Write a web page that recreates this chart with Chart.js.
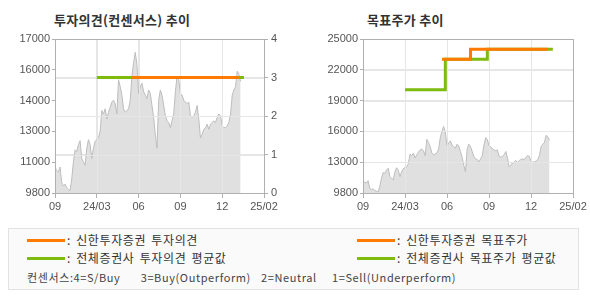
<!DOCTYPE html>
<html>
<head>
<meta charset="utf-8">
<script src="https://cdn.jsdelivr.net/npm/chart.js@4"></script>
<style>
  body { margin: 0; width: 590px; height: 300px; background: #fff; position: relative; overflow: hidden;
         font-family: "Noto Sans CJK KR", sans-serif; }
  canvas { position: absolute; top: 0; }
  .title { position: absolute; top: 10px; font-size: 13px; font-weight: bold; color: #333; letter-spacing: 0.3px; }
  .box { position: absolute; left: 8px; top: 228px; width: 569px; height: 60px;
         background: #fafafa; border: 1px solid #e2e2e2; }
  .swatch { position: absolute; width: 38px; height: 3px; }
  .lbl { position: absolute; font-size: 12px; color: #333; line-height: 14px; white-space: pre;
         letter-spacing: 0.6px; word-spacing: 2px; }
  .note { position: absolute; left: 27px; top: 270px; font-size: 11px; color: #444; white-space: pre;
          line-height: 14px; letter-spacing: 0.6px; word-spacing: 2px; }
</style>
</head>
<body>
<div class="title" style="left:54px">투자의견(컨센서스) 추이</div>
<div class="title" style="left:367px">목표주가 추이</div>
<canvas id="opinion" width="300" height="220" style="left:0"></canvas>
<canvas id="target" width="290" height="220" style="left:300px"></canvas>

<div class="box"></div>
<div class="swatch" style="left:27px;top:239px;background:#ff7a00"></div>
<div class="lbl" style="left:67px;top:233px">: 신한투자증권 투자의견</div>
<div class="swatch" style="left:27px;top:257px;background:#7dbb0c"></div>
<div class="lbl" style="left:67px;top:251px">: 전체증권사 투자의견 평균값</div>
<div class="swatch" style="left:357px;top:239px;background:#ff7a00"></div>
<div class="lbl" style="left:397px;top:233px">: 신한투자증권 목표주가</div>
<div class="swatch" style="left:357px;top:257px;background:#7dbb0c"></div>
<div class="lbl" style="left:397px;top:251px">: 전체증권사 목표주가 평균값</div>
<div class="note">컨센서스:4=S/Buy    3=Buy(Outperform)  2=Neutral   1=Sell(Underperform)</div>

<script>
// x axis runs in trading-day slots, a label every 25 slots
const xLabels = ['09', '24/03', '06', '09', '12', '25/02'];
const xTickDays = [0, 25, 50, 75, 100, 125];

// daily close
const prices = [
  11016, 10856, 10776, 11016, 10296, 10136, 10216, 10056, 9976, 9896,
  10456, 11256, 11816, 11736, 12056, 12248, 11416, 11256, 11096, 11896,
  12296, 12056, 11416, 11896, 12216, 12296, 12376, 12696, 13656, 13496,
  13736, 13256, 13576, 13816, 14056, 14136, 13976, 13496, 15096, 14776,
  14376, 13736, 13576, 13656, 13736, 14136, 15256, 15896, 16376, 15816,
  14456, 14776, 14936, 14536, 14376, 14216, 14616, 14456,
  13896, 13336, 12536, 11896, 14136, 14616, 14376, 13896, 13416, 13176,
  13096, 12856, 13176, 13496, 14536, 15256, 15096, 14456, 14376, 14136,
  14056, 13976, 14056, 13416, 13336, 13416, 13576, 13896, 13256, 12376,
  12536, 12776, 12856, 13016, 12776, 13016, 13096, 13176, 13096, 13336,
  13496, 13416, 12936, 12856, 12856, 12936, 13096, 13496, 14376, 14616,
  14776, 15496, 15336, 15016
];
const priceLastDay = 111;

const opinionAvgDays = [25, 113];
const opinionAvg = [3, 3];
const opinionFirmDays = [46, 110];
const opinionFirm = [3, 3];

const targetAvgDays = [25, 49, 74, 113];
const targetAvg = [20000, 23000, 24000, 24000];
const targetFirmDays = [47, 64, 110];
const targetFirm = [23000, 24000, 24000];

const opinionPriceLabels = ['9800', '11000', '13000', '14000', '16000', '17000'];
const targetPriceLabels = ['9800', '13000', '16000', '19000', '22000', '25000'];
const opinionLabels = ['0', '1', '2', '3', '4'];

const ORANGE = '#ff7a00';
const GREEN = '#7dbb0c';
const GRID = '#e6e6e6';
const FRAME = '#b0b0b0';
const tickFont = { family: '"Liberation Sans", Arial, sans-serif', size: 11 };

const pricePoints = prices.map((p, i) => ({ x: i * priceLastDay / (prices.length - 1), y: p }));
const pts = (xs, ys) => xs.map((x, i) => ({ x: x, y: ys[i] }));

// grid lines also show over the grey price area
const gridOverFill = {
  id: 'gridOverFill',
  afterDatasetDraw(chart, args, opts) {
    if (args.index !== 0) return;
    const { ctx, chartArea: a } = chart;
    ctx.save();
    ctx.strokeStyle = GRID;
    ctx.lineWidth = 1;
    ctx.beginPath();
    chart.scales.x.ticks.forEach(t => {
      const px = Math.round(chart.scales.x.getPixelForValue(t.value)) + 0.5;
      ctx.moveTo(px, a.top); ctx.lineTo(px, a.bottom);
    });
    const ys = chart.scales[opts.yScale];
    ys.ticks.forEach(t => {
      const py = Math.round(ys.getPixelForValue(t.value)) + 0.5;
      ctx.moveTo(a.left, py); ctx.lineTo(a.right, py);
    });
    ctx.stroke();
    ctx.restore();
  }
};

const frame = {
  id: 'frame',
  afterDraw(chart) {
    const { ctx, chartArea: a } = chart;
    ctx.save();
    ctx.strokeStyle = FRAME;
    ctx.lineWidth = 1;
    ctx.strokeRect(Math.round(a.left) + 0.5, Math.round(a.top) + 0.5,
                   Math.round(a.right - a.left), Math.round(a.bottom - a.top));
    ctx.restore();
  }
};

function xScale() {
  return {
    type: 'linear', min: 0, max: 125,
    afterBuildTicks: s => { s.ticks = xTickDays.map(v => ({ value: v })); },
    afterFit: s => { s.height = 27; },
    grid: { color: GRID, tickColor: FRAME, tickLength: 5 },
    border: { display: false },
    ticks: { font: tickFont, color: '#555', padding: 2, maxRotation: 0,
             callback: (v, i) => xLabels[i] }
  };
}

function priceScale(labels, min, max, width, gridOn, position) {
  const step = (max - min) / (labels.length - 1);
  return {
    type: 'linear', position: position || 'left', min: min, max: max,
    afterBuildTicks: s => { s.ticks = labels.map((l, i) => ({ value: min + i * step })); },
    afterFit: s => { s.width = width; },
    grid: { color: GRID, drawOnChartArea: gridOn, tickColor: FRAME, tickLength: 3 },
    border: { display: false },
    ticks: { font: tickFont, color: '#555', padding: 2, callback: (v, i) => labels[i] }
  };
}

const priceDataset = {
  data: pricePoints, yAxisID: 'y', order: 3,
  borderColor: '#bdbdbd', borderWidth: 1, backgroundColor: '#e0e0e0',
  fill: 'start', pointRadius: 0, tension: 0
};

const common = {
  responsive: false, animation: false, devicePixelRatio: 1,
  plugins: { legend: { display: false }, tooltip: { enabled: false } }
};

new Chart(document.getElementById('opinion'), {
  type: 'line',
  data: {
    datasets: [
      priceDataset,
      { data: pts(opinionAvgDays, opinionAvg), yAxisID: 'y1', order: 2,
        borderColor: GREEN, borderWidth: 3, pointRadius: 0, fill: false },
      { data: pts(opinionFirmDays, opinionFirm), yAxisID: 'y1', order: 1,
        borderColor: ORANGE, borderWidth: 3, pointRadius: 0, fill: false }
    ]
  },
  options: Object.assign({}, common, {
    layout: { padding: { top: 39, left: 0, right: 0, bottom: 0 } },
    plugins: Object.assign({}, common.plugins, { gridOverFill: { yScale: 'y1' } }),
    scales: {
      x: xScale(),
      y: priceScale(opinionPriceLabels, 9800, 17000, 55, false),
      y1: {
        type: 'linear', position: 'right', min: 0, max: 4,
        afterBuildTicks: s => { s.ticks = opinionLabels.map((l, i) => ({ value: i })); },
        afterFit: s => { s.width = 36; },
        grid: { color: GRID, tickColor: FRAME, tickLength: 4 },
        border: { display: false },
        ticks: { font: tickFont, color: '#555', padding: 3, callback: (v, i) => opinionLabels[i] }
      }
    }
  }),
  plugins: [gridOverFill, frame]
});

new Chart(document.getElementById('target'), {
  type: 'line',
  data: {
    datasets: [
      Object.assign({}, priceDataset, { data: pricePoints }),
      { data: pts(targetAvgDays, targetAvg), yAxisID: 'y', order: 2, stepped: true,
        borderColor: GREEN, borderWidth: 3, pointRadius: 0, fill: false },
      { data: pts(targetFirmDays, targetFirm), yAxisID: 'y', order: 1, stepped: true,
        borderColor: ORANGE, borderWidth: 3, pointRadius: 0, fill: false }
    ]
  },
  options: Object.assign({}, common, {
    layout: { padding: { top: 39, left: 0, right: 17, bottom: 0 } },
    plugins: Object.assign({}, common.plugins, { gridOverFill: { yScale: 'y' } }),
    scales: {
      x: xScale(),
      y: priceScale(targetPriceLabels, 9800, 25000, 63, true)
    }
  }),
  plugins: [gridOverFill, frame]
});
</script>
</body>
</html>
